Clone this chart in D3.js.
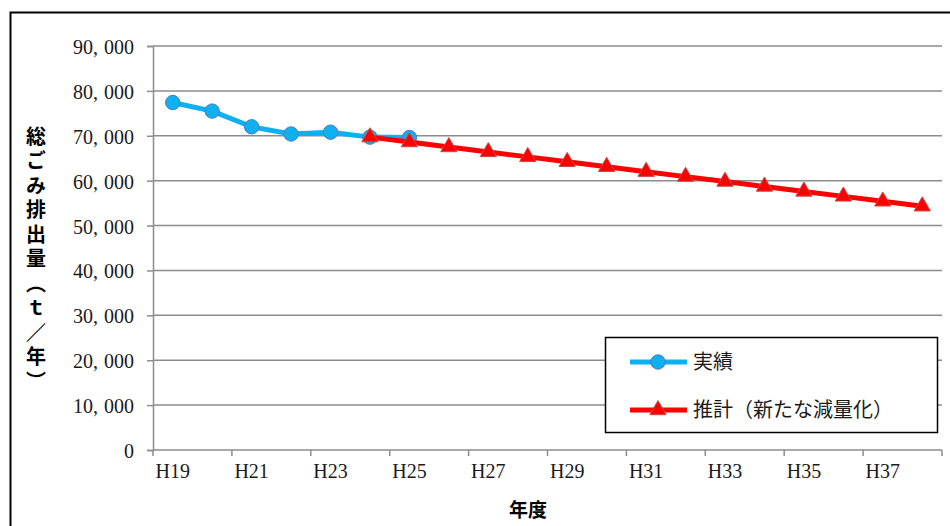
<!DOCTYPE html>
<html>
<head>
<meta charset="utf-8">
<script src="https://cdn.jsdelivr.net/npm/d3@7"></script>
<style>
  html, body { margin: 0; padding: 0; background: #fff; }
  svg { display: block; }
</style>
</head>
<body>
<svg id="chart" width="950" height="526"></svg>
<script>
// Fiscal years (Heisei era)
const years = ["H19","H20","H21","H22","H23","H24","H25","H26","H27","H28",
               "H29","H30","H31","H32","H33","H34","H35","H36","H37","H38"];
// Actual total waste (t/year), H19–H25
const actualYears = ["H19","H20","H21","H22","H23","H24","H25"];
const actualValues = [77400, 75500, 72000, 70400, 70800, 69700, 69600];
// Projection with new reduction measures, H24–H38
const forecastYears = ["H24","H25","H26","H27","H28","H29","H30","H31","H32",
                       "H33","H34","H35","H36","H37","H38"];
const forecastValues = [69700, 68600, 67500, 66400, 65300, 64200, 63100, 62000,
                        60900, 59800, 58700, 57600, 56500, 55400, 54300];
const yTicks = [0,10000,20000,30000,40000,50000,60000,70000,80000,90000];
const xLabelYears = ["H19","H21","H23","H25","H27","H29","H31","H33","H35","H37"];
const seriesNames = ["実績", "推計（新たな減量化）"];

const svg = d3.select("#chart");
const plot = { left: 153, right: 942, top: 46, bottom: 450 };

const x = d3.scaleBand().domain(years).range([plot.left, plot.right]).padding(0);
const y = d3.scaleLinear().domain([0, 90000]).range([plot.bottom, plot.top]);
const cx = d => x(d) + x.bandwidth() / 2;

const blue = "#0fb0ef", blueEdge = "#4a7cc4";
const red = "#ff0000", redEdge = "#c0504d";
const serif = "'Liberation Serif', 'DejaVu Serif', serif";
const gothic = "'Noto Sans CJK JP', 'Noto Sans', sans-serif";

// Outer frame
svg.append("rect")
  .attr("x", 10.5).attr("y", 12.5).attr("width", 980).attr("height", 560)
  .attr("fill", "none").attr("stroke", "#000").attr("stroke-width", 2);

// Horizontal gridlines
svg.append("g").selectAll("line").data(yTicks.filter(d => d > 0)).join("line")
  .attr("x1", plot.left).attr("x2", plot.right)
  .attr("y1", d => y(d)).attr("y2", d => y(d))
  .attr("stroke", "#8c8c8c").attr("stroke-width", 1.5);

// Y axis
const yAxis = svg.append("g").attr("transform", `translate(${plot.left},0)`)
  .call(d3.axisLeft(y).tickValues(yTicks).tickSize(6).tickFormat(""));
yAxis.select(".domain").attr("stroke", "#8c8c8c").attr("stroke-width", 1.5);
yAxis.selectAll(".tick line").attr("stroke", "#8c8c8c").attr("stroke-width", 1.5);

// Y tick labels: thousands split with a wider gap after the comma
const fmt = d3.format(",");
const yLab = svg.append("g").selectAll("text").data(yTicks).join("text")
  .attr("x", 134).attr("y", d => y(d) + 8)
  .attr("text-anchor", "end")
  .attr("font-family", serif).attr("font-size", 20).attr("fill", "#1a1a1a");
yLab.each(function(d) {
  const parts = fmt(d).split(",");
  const t = d3.select(this);
  parts.forEach((p, i) => {
    t.append("tspan").attr("dx", i > 0 ? 6 : 0).text(i < parts.length - 1 ? p + "," : p);
  });
});

// X axis: baseline, ticks every two years
svg.append("line")
  .attr("x1", plot.left).attr("x2", plot.right)
  .attr("y1", plot.bottom).attr("y2", plot.bottom)
  .attr("stroke", "#8c8c8c").attr("stroke-width", 1.5);
const tickPos = xLabelYears.map(d => x(d)).concat([plot.right]);
svg.append("g").selectAll("line").data(tickPos).join("line")
  .attr("x1", d => d).attr("x2", d => d)
  .attr("y1", plot.bottom).attr("y2", plot.bottom + 6)
  .attr("stroke", "#8c8c8c").attr("stroke-width", 1.5);
svg.append("g").selectAll("text").data(xLabelYears).join("text")
  .attr("x", d => cx(d)).attr("y", 478)
  .attr("text-anchor", "middle")
  .attr("font-family", serif).attr("font-size", 20).attr("fill", "#1a1a1a")
  .text(d => d);

// Axis titles
svg.append("text")
  .attr("x", 528).attr("y", 517).attr("text-anchor", "middle")
  .attr("font-family", gothic).attr("font-size", 19).attr("font-weight", "bold")
  .attr("fill", "#000").text("年度");

svg.append("text")
  .attr("x", 36).attr("y", 126)
  .attr("font-family", gothic).attr("font-size", 20).attr("font-weight", "bold")
  .attr("fill", "#000")
  .style("writing-mode", "vertical-rl").style("text-orientation", "upright")
  .style("letter-spacing", "4.5px")
  .text("総ごみ排出量（ｔ／年）");

// Series lines
const line = d3.line().x(d => cx(d[0])).y(d => y(d[1]));
const actual = actualYears.map((d, i) => [d, actualValues[i]]);
const forecast = forecastYears.map((d, i) => [d, forecastValues[i]]);

svg.append("path").datum(actual).attr("d", line)
  .attr("fill", "none").attr("stroke", blue).attr("stroke-width", 5)
  .attr("stroke-linejoin", "round");
svg.append("g").selectAll("circle").data(actual).join("circle")
  .attr("cx", d => cx(d[0])).attr("cy", d => y(d[1])).attr("r", 7.2)
  .attr("fill", blue).attr("stroke", blueEdge).attr("stroke-width", 1);

svg.append("path").datum(forecast).attr("d", line)
  .attr("fill", "none").attr("stroke", red).attr("stroke-width", 5)
  .attr("stroke-linejoin", "round");
const tri = d3.symbol().type(d3.symbolTriangle).size(115);
svg.append("g").selectAll("path").data(forecast).join("path")
  .attr("transform", d => `translate(${cx(d[0])},${y(d[1])})`)
  .attr("d", tri)
  .attr("fill", red).attr("stroke", redEdge).attr("stroke-width", 1);

// Legend
const lg = svg.append("g");
lg.append("rect").attr("x", 605.5).attr("y", 337.5).attr("width", 332).attr("height", 95)
  .attr("fill", "#fff").attr("stroke", "#000").attr("stroke-width", 1.5);
const rows = [
  { name: seriesNames[0], y: 362, color: blue },
  { name: seriesNames[1], y: 410, color: red }
];
rows.forEach((r, i) => {
  lg.append("line").attr("x1", 630).attr("x2", 687).attr("y1", r.y).attr("y2", r.y)
    .attr("stroke", r.color).attr("stroke-width", 5);
  if (i === 0) {
    lg.append("circle").attr("cx", 658).attr("cy", r.y).attr("r", 7.2)
      .attr("fill", blue).attr("stroke", blueEdge).attr("stroke-width", 1);
  } else {
    lg.append("path").attr("transform", `translate(658,${r.y})`).attr("d", tri)
      .attr("fill", red).attr("stroke", redEdge).attr("stroke-width", 1);
  }
  lg.append("text").attr("x", 693).attr("y", r.y + 7)
    .attr("font-family", gothic).attr("font-size", 20).attr("fill", "#1a1a1a")
    .text(r.name);
});
</script>
</body>
</html>
